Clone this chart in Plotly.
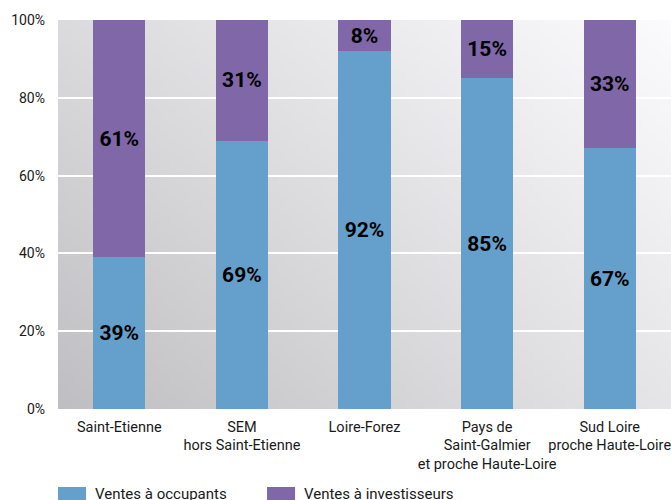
import base64, struct, zlib
import plotly.graph_objects as go

categories = ["Saint-Etienne", "SEM<br>hors Saint-Etienne", "Loire-Forez",
              "Pays de<br>Saint-Galmier<br>et proche Haute-Loire",
              "Sud Loire<br>proche Haute-Loire"]
occupants = [39, 69, 92, 85, 67]
investisseurs = [61, 31, 8, 15, 33]
series_names = ["Ventes à occupants", "Ventes à investisseurs"]
series_colors = ["#64a0cb", "#7f67a8"]
y_ticks = [0, 20, 40, 60, 80, 100]
y_tick_labels = ["0%", "20%", "40%", "60%", "80%", "100%"]

FONT = "Roboto, Liberation Sans, sans-serif"


def gradient_png(w=96, h=96):
    tl, bl, tr, br = 219, 191, 251, 229
    rows = []
    for j in range(h):
        fy = j / (h - 1)
        row = bytearray([0])
        for i in range(w):
            fx = i / (w - 1)
            top = tl + (tr - tl) * fx
            bot = bl + (br - bl) * fx
            v = int(round(top + (bot - top) * fy))
            row += bytes([v, v, min(255, v + 2)])
        rows.append(bytes(row))
    raw = b"".join(rows)

    def chunk(t, d):
        c = struct.pack(">I", len(d)) + t + d
        return c + struct.pack(">I", zlib.crc32(t + d) & 0xffffffff)

    png = b"\x89PNG\r\n\x1a\n" + chunk(b"IHDR", struct.pack(">IIBBBBB", w, h, 8, 2, 0, 0, 0)) \
        + chunk(b"IDAT", zlib.compress(raw, 9)) + chunk(b"IEND", b"")
    return "data:image/png;base64," + base64.b64encode(png).decode()


fig = go.Figure()
for name, vals, col in zip(series_names, [occupants, investisseurs], series_colors):
    fig.add_trace(go.Bar(
        x=categories, y=vals, name=name, marker=dict(color=col, line=dict(width=0)),
        text=[f"{v}%" for v in vals], textposition="inside", insidetextanchor="middle",
        constraintext="none", textangle=0,
        textfont=dict(family=FONT, size=21, color="#000000", weight="bold"),
        showlegend=False, hoverinfo="skip",
    ))

fig.update_layout(
    barmode="stack", bargap=0.575,
    width=671, height=500,
    margin=dict(l=58, r=0, t=20, b=91, autoexpand=False),
    paper_bgcolor="white", plot_bgcolor="rgba(0,0,0,0)",
    font=dict(family=FONT, size=14, color="#1a1a1a"),
    images=[dict(source=gradient_png(), xref="paper", yref="paper", x=0, y=1,
                 sizex=1, sizey=1, sizing="stretch", layer="below",
                 xanchor="left", yanchor="top")],
    xaxis=dict(showgrid=False, zeroline=False, showline=False, ticks="",
               tickangle=0, automargin=False, ticklabelstandoff=7,
               tickfont=dict(family=FONT, size=14.5, color="#1a1a1a")),
    yaxis=dict(range=[0, 100], tickvals=y_ticks, ticktext=y_tick_labels,
               showgrid=True, automargin=False,
               gridcolor="white", gridwidth=2, zeroline=False, showline=False,
               ticks="", ticklabelstandoff=12,
               tickfont=dict(family=FONT, size=14, color="#1a1a1a")),
)

# legend drawn with shapes + text (cropped at the bottom edge as in the source)
legend_x = [0.0, 0.341]
for lx, name, col in zip(legend_x, series_names, series_colors):
    fig.add_shape(type="rect", xref="paper", yref="paper",
                  x0=lx, x1=lx + 0.0457, y0=-0.24, y1=-0.2005,
                  fillcolor=col, line=dict(width=0))
    fig.add_annotation(xref="paper", yref="paper", x=lx + 0.057, y=-0.2185,
                       text=name, showarrow=False, xanchor="left", yanchor="middle",
                       font=dict(family=FONT, size=15, color="#1a1a1a"))

fig.write_html(
    "out.html",
    config={"displayModeBar": False},
    post_script="document.body.style.margin='0';document.body.style.overflow='hidden';"
                "document.documentElement.style.overflow='hidden';",
)
